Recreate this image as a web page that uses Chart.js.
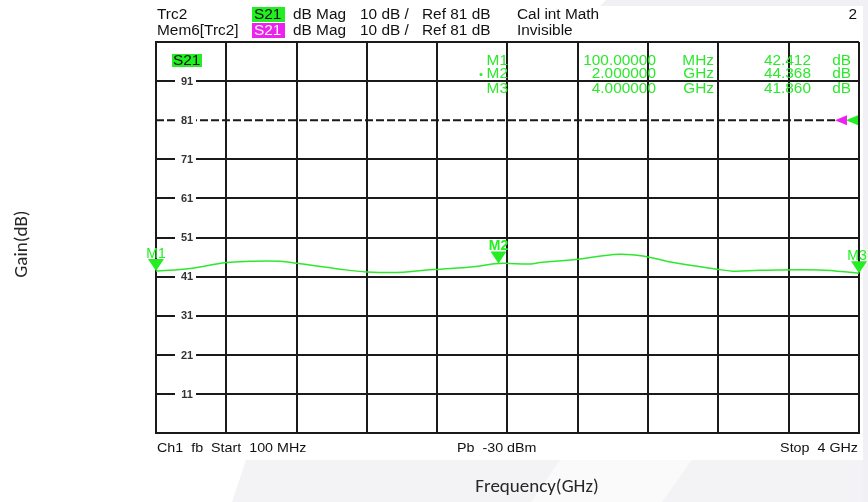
<!DOCTYPE html>
<html>
<head>
<meta charset="utf-8">
<script src="https://cdn.jsdelivr.net/npm/chart.js@4.4.0/dist/chart.umd.min.js"></script>
<style>
  html, body { margin: 0; padding: 0; background: #fff; }
  #wrap { width: 868px; height: 502px; position: relative; }
</style>
</head>
<body>
<div id="wrap"><canvas id="chart" width="868" height="502"></canvas></div>
<script>
// trace (S21, dB)
const freqGHz = [0.1, 0.29, 0.49, 0.62, 0.79, 0.88, 1.12, 1.27, 1.47, 1.6, 1.68, 1.86, 2.0, 2.18, 2.23, 2.43, 2.67, 2.82, 2.97, 3.21, 3.3, 3.45, 3.78, 4.0];
const gainDb = [42.4, 43.1, 44.6, 44.9, 44.9, 44.4, 42.9, 42.2, 42.1, 42.7, 42.9, 43.5, 44.37, 44.2, 44.6, 45.4, 46.7, 46.1, 44.6, 42.9, 42.4, 42.6, 42.7, 41.86];

// grid divisions
const xTicks = [0.1, 0.49, 0.88, 1.27, 1.66, 2.05, 2.44, 2.83, 3.22, 3.61, 4.0];
const yTicks = [1, 11, 21, 31, 41, 51, 61, 71, 81, 91, 101];
const yLabels = [11, 21, 31, 41, 51, 61, 71, 81, 91];
const refLevel = 81;

// markers
const markerNames = ["M1", "M2", "M3"];
const markerFreq = [0.1, 2.0, 4.0];
const markerGain = [42.412, 44.368, 41.86];
const markerFreqText = ["100.00000", "2.000000", "4.000000"];
const markerUnit = ["MHz", "GHz", "GHz"];

const GRID = "#1a1a1a";
const TRACE = "#2ee82e";
const FONT = '"Liberation Sans", Arial, sans-serif';

// draws text slightly stretched sideways like the analyzer font
function txt(ctx, s, x, y, align) {
    ctx.save();
    ctx.translate(x, y);
    ctx.scale(1.1, 1);
    ctx.textAlign = align || "left";
    ctx.fillText(s, 0, 0);
    ctx.restore();
}

// faint grey shapes behind everything
const backdrop = {
    id: "backdrop",
    beforeDraw(chart) {
        const ctx = chart.ctx;
        ctx.save();
        ctx.fillStyle = "#f3f3f6";
        ctx.beginPath();
        ctx.moveTo(246, 460); ctx.lineTo(868, 460); ctx.lineTo(868, 502); ctx.lineTo(232, 502);
        ctx.closePath();
        ctx.fill();
        ctx.fillStyle = "#fafafb";
        ctx.beginPath();
        ctx.moveTo(560, 460); ctx.lineTo(692, 460); ctx.lineTo(662, 502); ctx.lineTo(531, 502);
        ctx.closePath();
        ctx.fill();
        ctx.fillStyle = "#f1f1f5";
        ctx.beginPath();
        ctx.moveTo(606, 0); ctx.lineTo(868, 0); ctx.lineTo(868, 6); ctx.lineTo(600, 6);
        ctx.closePath();
        ctx.fill();
        ctx.fillRect(863, 0, 5, 502);
        ctx.restore();
    }
};

// analyzer annotations: header, tick labels, markers, footer
const overlay = {
    id: "overlay",
    afterDraw(chart) {
        const ctx = chart.ctx;
        const xs = chart.scales.x, ys = chart.scales.y;
        ctx.save();
        ctx.textBaseline = "middle";

        // header
        ctx.font = "14px " + FONT;
        ctx.fillStyle = "#111";
        txt(ctx, "Trc2", 157, 15);
        txt(ctx, "Mem6[Trc2]", 157, 31);
        [15, 31].forEach((y, i) => {
            ctx.fillStyle = i === 0 ? "#22ee22" : "#ee22ee";
            ctx.fillRect(252, y - 8, 33, 15);
            ctx.fillStyle = i === 0 ? "#111" : "#fff";
            txt(ctx, "S21", 254, y);
            ctx.fillStyle = "#111";
            txt(ctx, "dB Mag", 293, y);
            txt(ctx, "10 dB /", 360, y);
            txt(ctx, "Ref 81 dB", 422, y);
        });
        txt(ctx, "Cal int Math", 517, 15);
        txt(ctx, "Invisible", 517, 31);
        txt(ctx, "2", 857, 15, "right");

        // S21 tag inside the grid
        ctx.fillStyle = "#22ee22";
        ctx.fillRect(172, 54, 30, 13);
        ctx.fillStyle = "#111";
        txt(ctx, "S21", 173, 61);

        // y labels sitting on the grid lines
        ctx.font = "bold 10px " + FONT;
        yLabels.forEach(v => {
            const y = ys.getPixelForValue(v);
            ctx.fillStyle = "#fff";
            ctx.fillRect(175, y - 4, 21, 8);
            ctx.fillStyle = "#333";
            txt(ctx, String(v), 187, y + 1, "center");
        });

        // marker table
        ctx.font = "14px " + FONT;
        ctx.fillStyle = TRACE;
        const rows = [61, 74.5, 89];
        markerNames.forEach((m, i) => {
            const y = rows[i];
            txt(ctx, m, 508, y, "right");
            txt(ctx, markerFreqText[i], 656, y, "right");
            txt(ctx, markerUnit[i], 714, y, "right");
            txt(ctx, markerGain[i].toFixed(3), 811, y, "right");
            txt(ctx, "dB", 851, y, "right");
        });
        ctx.beginPath();
        ctx.arc(481, 74.5, 1.5, 0, Math.PI * 2);
        ctx.fill();

        // marker triangles on the trace
        markerNames.forEach((m, i) => {
            const px = xs.getPixelForValue(markerFreq[i]);
            const py = ys.getPixelForValue(markerGain[i]);
            ctx.fillStyle = "#22ee22";
            ctx.beginPath();
            ctx.moveTo(px, py);
            ctx.lineTo(px - 8, py - 12);
            ctx.lineTo(px + 8, py - 12);
            ctx.closePath();
            ctx.fill();
            ctx.font = (i === 1 ? "bold " : "") + "14px " + FONT;
            ctx.textAlign = "center";
            ctx.fillText(m, Math.min(px, 857), py - 17);
        });

        // reference level arrows at the right edge
        const ry = ys.getPixelForValue(refLevel);
        [["#ee22ee", 835], ["#22ee22", 846]].forEach(([c, x]) => {
            ctx.fillStyle = c;
            ctx.beginPath();
            ctx.moveTo(x, ry);
            ctx.lineTo(x + 12, ry - 5);
            ctx.lineTo(x + 12, ry + 5);
            ctx.closePath();
            ctx.fill();
        });

        // footer
        ctx.font = "13px " + FONT;
        ctx.fillStyle = "#111";
        txt(ctx, "Ch1  fb  Start  100 MHz", 157, 448);
        txt(ctx, "Pb  -30 dBm", 457, 448);
        txt(ctx, "Stop  4 GHz", 858, 448, "right");

        // axis titles
        ctx.font = '19px Carlito, "Open Sans", sans-serif';
        ctx.fillStyle = "#262626";
        ctx.textAlign = "center";
        ctx.fillText("Frequency(GHz)", 537, 487);
        ctx.translate(22, 244);
        ctx.rotate(-Math.PI / 2);
        ctx.fillText("Gain(dB)", 0, 0);
        ctx.restore();
    }
};

new Chart(document.getElementById("chart"), {
    type: "line",
    data: {
        datasets: [
            {
                label: "S21",
                data: freqGHz.map((f, i) => ({ x: f, y: gainDb[i] })),
                borderColor: TRACE,
                borderWidth: 1.5,
                pointRadius: 0,
                tension: 0.4,
            },
            {
                label: "ref",
                data: [{ x: xTicks[0], y: refLevel }, { x: xTicks[xTicks.length - 1], y: refLevel }],
                borderColor: GRID,
                borderWidth: 2,
                borderDash: [8, 3],
                pointRadius: 0,
            },
        ],
    },
    options: {
        responsive: false,
        animation: false,
        layout: { padding: { left: 156, right: 9, top: 42, bottom: 69 } },
        plugins: { legend: { display: false }, tooltip: { enabled: false } },
        scales: {
            x: {
                type: "linear",
                min: 0.1,
                max: 4,
                afterBuildTicks: s => { s.ticks = xTicks.map(v => ({ value: v })); },
                ticks: { display: false },
                grid: { color: GRID, lineWidth: 2, drawTicks: false },
                border: { color: GRID, width: 2 },
            },
            y: {
                min: 1,
                max: 101,
                afterBuildTicks: s => { s.ticks = yTicks.map(v => ({ value: v })); },
                ticks: { display: false },
                grid: {
                    color: c => (c.tick && c.tick.value === refLevel ? "rgba(0,0,0,0)" : GRID),
                    lineWidth: 2,
                    drawTicks: false,
                },
                border: { color: GRID, width: 2 },
            },
        },
    },
    plugins: [backdrop, overlay],
});
</script>
</body>
</html>
